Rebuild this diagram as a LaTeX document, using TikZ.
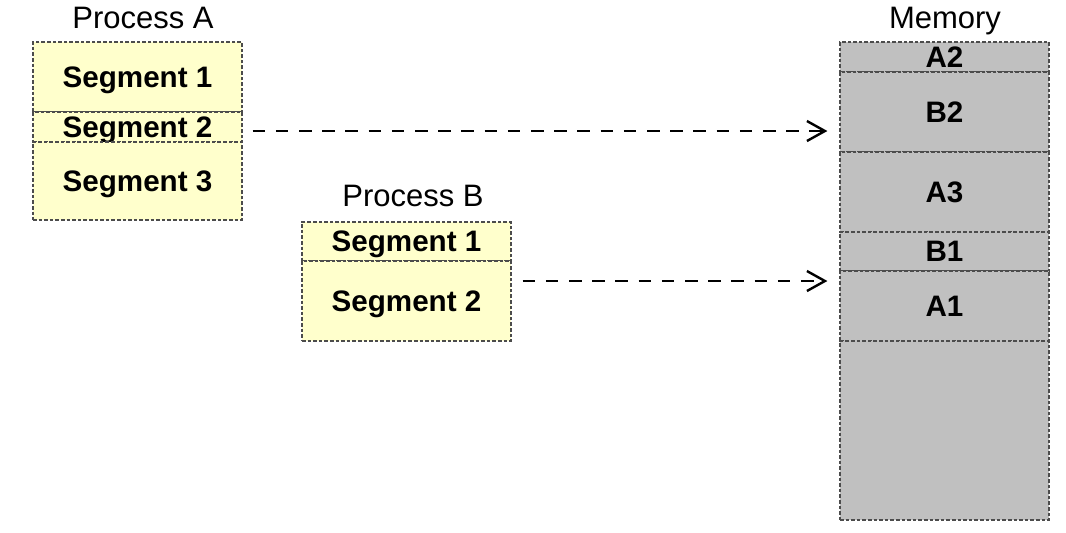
\documentclass[tikz,border=0pt]{standalone}
\usepackage{fontspec}
\setmainfont{Liberation Sans}
\usetikzlibrary{arrows.meta}
\definecolor{segyellow}{RGB}{255,255,204}
\definecolor{memgray}{RGB}{192,192,192}
\tikzset{
  seg/.style={draw=black!70, line width=0.6pt, dash pattern=on 1.8pt off 1pt,
    fill=segyellow, minimum width=104.5pt, inner sep=0pt, text depth=0pt,
    font=\bfseries\fontsize{14.8}{17}\selectfont},
  memseg/.style={seg, fill=memgray},
  title/.style={inner sep=0pt, text depth=0pt, font=\fontsize{15.5}{18}\selectfont},
  link/.style={line width=1.3pt, dash pattern=on 6.3pt off 5.3pt,
    -{Straight Barb[length=9pt,width=10pt,line width=1.2pt]}}
}
\begin{document}
\begin{tikzpicture}[x=0.5pt, y=-0.5pt]
  \useasboundingbox (0,0) rectangle (1066,532);
  % process A
  \node (ta) at (143,18) [title] {Process A};
  \node (a1) at (137.5,77) [seg, minimum height=35pt] {Segment 1};
  \node (a2) at (137.5,127) [seg, minimum height=15pt] {Segment 2};
  \node (a3) at (137.5,181) [seg, minimum height=39pt] {Segment 3};
  % process B
  \node (tb) at (413,196) [title] {Process B};
  \node (b1) at (406.5,241.5) [seg, minimum height=19.5pt] {Segment 1};
  \node (b2) at (406.5,301) [seg, minimum height=40pt] {Segment 2};
  % memory
  \node (tm) at (945,18) [title] {Memory};
  \node (mA2) at (944.5,57) [memseg, minimum height=15pt] {A2};
  \node (mB2) at (944.5,112) [memseg, minimum height=40pt] {B2};
  \node (mA3) at (944.5,192) [memseg, minimum height=40pt] {A3};
  \node (mB1) at (944.5,251.5) [memseg, minimum height=19.5pt] {B1};
  \node (mA1) at (944.5,306) [memseg, minimum height=35pt] {A1};
  \node (mfree) at (944.5,430.5) [memseg, minimum height=89.5pt] {};

  \draw[link, shorten <=5pt, shorten >=6pt]
    ([yshift=-2pt]a2.east) -- ([yshift=-2pt]a2.east -| mB2.west);
  \draw[link, shorten <=5.5pt, shorten >=6pt]
    ([yshift=10pt]b2.east) -- ([yshift=10pt]b2.east -| mA1.west);
\end{tikzpicture}
\end{document}
